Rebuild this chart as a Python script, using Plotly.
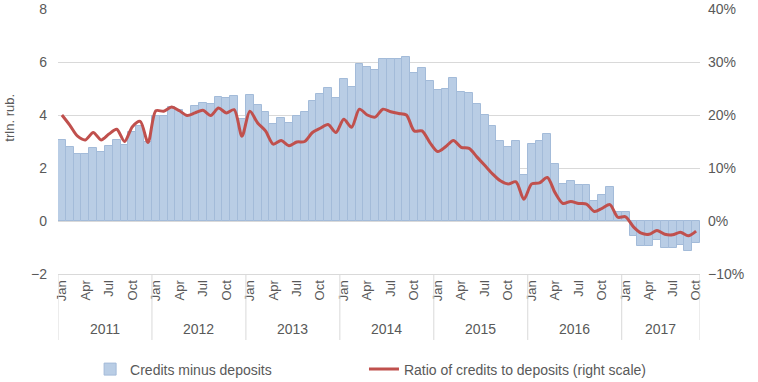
import plotly.graph_objects as go

years = ["2011", "2012", "2013", "2014", "2015", "2016", "2017"]
month_names = ["Jan", "Feb", "Mar", "Apr", "May", "Jun", "Jul", "Aug", "Sep", "Oct", "Nov", "Dec"]
n_months = 82  # Jan 2011 .. Oct 2017

credits_minus_deposits = [
    3.06, 2.79, 2.53, 2.53, 2.75, 2.60, 2.83, 3.06, 2.87, 3.36, 3.58, 3.00,
    3.96, 3.96, 4.29, 4.19, 4.00, 4.34, 4.44, 4.42, 4.68, 4.64, 4.72, 3.85,
    4.75, 4.37, 4.10, 3.66, 3.89, 3.70, 3.97, 4.10, 4.53, 4.79, 5.02, 4.64,
    5.36, 5.06, 5.92, 5.81, 5.70, 6.10, 6.10, 6.10, 6.19, 5.58, 5.77, 5.28,
    4.94, 4.98, 5.40, 4.87, 4.83, 4.42, 4.00, 3.58, 3.02, 2.79, 3.02, 1.74,
    2.91, 3.02, 3.28, 2.15, 1.40, 1.51, 1.36, 1.36, 0.75, 0.98, 1.28, 0.34,
    0.34, -0.55, -0.93, -0.93, -0.72, -1.03, -1.03, -0.90, -1.15, -0.84,
]

ratio_credits_to_deposits = [
    20.0, 18.1, 16.0, 15.3, 16.7, 15.3, 16.4, 17.3, 15.0, 17.8, 18.8, 14.8,
    20.8, 20.7, 21.5, 20.8, 19.9, 20.4, 20.9, 19.9, 21.3, 20.4, 21.0, 16.0,
    20.7, 18.5, 17.0, 14.5, 15.2, 14.2, 14.9, 15.0, 16.7, 17.5, 18.2, 16.7,
    19.2, 17.7, 21.1, 20.0, 19.6, 21.1, 20.6, 20.3, 20.0, 17.0, 17.0, 14.8,
    13.1, 14.0, 15.2, 13.9, 13.7, 12.1, 10.5, 8.9, 7.6, 7.0, 7.4, 4.1,
    7.0, 7.2, 8.2, 5.3, 3.3, 3.7, 3.3, 3.2, 1.8, 2.4, 3.1, 0.7,
    0.8, -1.1, -2.3, -2.5, -1.8, -2.5, -2.6, -2.1, -2.8, -1.9,
]

x_idx = list(range(n_months))
ratio_frac = [v / 100 for v in ratio_credits_to_deposits]

tick_vals = [i for i in x_idx if i % 3 == 0]
tick_text = [month_names[i % 12] for i in tick_vals]

TEXT = "#595959"
GRID = "#D9D9D9"
FONT = "Liberation Sans"

fig = go.Figure()
fig.add_trace(go.Bar(
    x=x_idx, y=credits_minus_deposits, name="Credits minus deposits",
    marker=dict(color="#B9CDE5", line=dict(color="#A3BBD9", width=1)),
    legend="legend", yaxis="y",
))
fig.add_trace(go.Scatter(
    x=x_idx, y=ratio_frac, name="Ratio of credits to deposits (right scale)",
    mode="lines", line=dict(color="#C0504D", width=3, shape="spline", smoothing=0.8),
    legend="legend2", yaxis="y2",
))

shapes = []
for k in range(len(years) + 1):
    xb = -0.5 + 12 * k if k < len(years) else n_months - 0.5
    shapes.append(dict(type="line", xref="x", yref="paper", x0=xb, x1=xb,
                       y0=0, y1=-0.249, line=dict(color=GRID, width=1)))

annotations = []
for k, yr in enumerate(years):
    start = 12 * k
    end = min(12 * (k + 1), n_months) - 1
    annotations.append(dict(x=(start + end) / 2, y=-0.2075, xref="x", yref="paper",
                            text=yr, showarrow=False, yanchor="middle",
                            font=dict(size=14, color=TEXT, family=FONT)))
annotations.append(dict(x=-48 / 642, y=3.9, xref="paper", yref="y", text="trln. rub.",
                        textangle=-90, showarrow=False, xanchor="center",
                        font=dict(size=13, color=TEXT, family=FONT)))

fig.update_layout(
    width=758, height=382,
    margin=dict(l=58, r=58, t=9, b=108, autoexpand=False),
    paper_bgcolor="white", plot_bgcolor="white",
    bargap=0,
    font=dict(family=FONT, size=13, color=TEXT),
    xaxis=dict(range=[-0.5, n_months - 0.5], tickmode="array", tickvals=tick_vals,
               ticktext=tick_text, tickangle=-90, showgrid=False, zeroline=False,
               showline=True, linecolor=GRID, ticks="", automargin=False,
               tickfont=dict(size=13, color=TEXT)),
    yaxis=dict(range=[-2, 8], dtick=2, gridcolor=GRID, zeroline=False, showline=False,
               ticks="", automargin=False, tickfont=dict(size=14, color=TEXT),
               ticklabelstandoff=10),
    yaxis2=dict(range=[-0.1, 0.4], dtick=0.1, tickformat=".0%", overlaying="y",
                side="right", showgrid=False, zeroline=False, showline=False, ticks="",
                automargin=False, tickfont=dict(size=14, color=TEXT), ticklabelstandoff=7),
    legend=dict(x=0.05, y=-0.30, xanchor="left", yanchor="top",
                orientation="h", font=dict(size=14, color=TEXT, family=FONT),
                bgcolor="rgba(0,0,0,0)"),
    legend2=dict(x=0.4766, y=-0.30, xanchor="left", yanchor="top",
                 orientation="h", font=dict(size=14, color=TEXT, family=FONT),
                 bgcolor="rgba(0,0,0,0)"),
    shapes=shapes, annotations=annotations,
    showlegend=True,
)

fig.write_html("out.html", config={"displayModeBar": False},
               post_script="document.body.style.margin='0';document.body.style.overflow='hidden';")
